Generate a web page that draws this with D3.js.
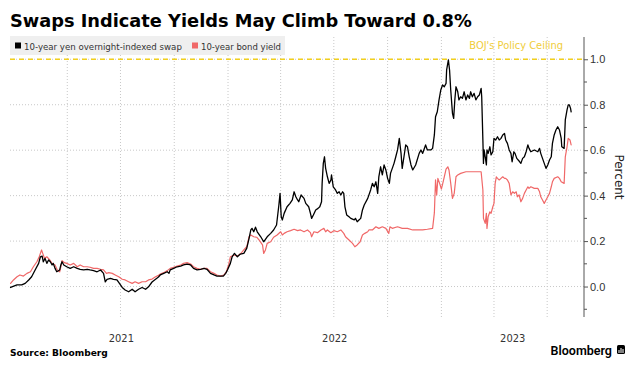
<!DOCTYPE html>
<html lang="en">
<head>
  <meta charset="UTF-8">
  <style>
    body { margin: 0; background: #fff; }
    svg { display: block; font-family: "DejaVu Sans", sans-serif; }
    .grid line { stroke: #c8c8c8; stroke-dasharray: 1,2; }
    .fn { fill: none; stroke-linejoin: round; stroke-linecap: round; }
    .tick-label { font-size: 11px; fill: #333; font-stretch: condensed; }
  </style>
</head>
<body>
  <svg id="chart" width="639" height="370"></svg>
  <script src="https://cdnjs.cloudflare.com/ajax/libs/d3/7.8.5/d3.min.js"></script>
  <script>
    // data (percent)
    const swap = [
      ["2020-12-25",-0.004],["2021-01-05",0.007],["2021-01-13",0.007],["2021-01-19",0.014],["2021-01-25",0.029],["2021-01-30",0.043],
      ["2021-02-05",0.073],["2021-02-11",0.102],["2021-02-14",0.131],["2021-02-17",0.134],["2021-02-19",0.109],["2021-02-22",0.124],
      ["2021-02-25",0.102],["2021-02-28",0.117],["2021-03-03",0.109],["2021-03-06",0.095],["2021-03-08",0.102],["2021-03-11",0.080],
      ["2021-03-14",0.065],["2021-03-19",0.073],["2021-03-21",0.095],["2021-03-23",0.109],["2021-03-26",0.095],["2021-03-31",0.087],
      ["2021-04-06",0.080],["2021-04-12",0.087],["2021-04-18",0.080],["2021-04-23",0.076],["2021-04-29",0.073],["2021-05-05",0.076],
      ["2021-05-10",0.073],["2021-05-16",0.070],["2021-05-22",0.065],["2021-05-28",0.073],["2021-06-02",0.058],["2021-06-05",0.021],
      ["2021-06-08",0.032],["2021-06-14",0.036],["2021-06-19",0.032],["2021-06-25",0.029],["2021-07-01",0.007],["2021-07-04",-0.004],
      ["2021-07-09",-0.015],["2021-07-15",-0.023],["2021-07-21",-0.012],["2021-07-26",-0.023],["2021-08-01",-0.012],["2021-08-07",-0.004],
      ["2021-08-13",-0.012],["2021-08-18",-0.001],["2021-08-24",0.020],["2021-08-30",0.032],["2021-09-04",0.042],["2021-09-07",0.051],
      ["2021-09-13",0.058],["2021-09-19",0.065],["2021-09-22",0.058],["2021-09-24",0.073],["2021-09-30",0.080],["2021-10-06",0.087],
      ["2021-10-12",0.090],["2021-10-17",0.095],["2021-10-23",0.099],["2021-10-29",0.095],["2021-11-03",0.080],["2021-11-09",0.073],
      ["2021-11-15",0.076],["2021-11-21",0.080],["2021-11-26",0.076],["2021-12-02",0.058],["2021-12-08",0.051],["2021-12-13",0.046],
      ["2021-12-19",0.046],["2021-12-24",0.046],["2021-12-28",0.058],["2021-12-31",0.073],["2022-01-05",0.102],["2022-01-08",0.131],
      ["2022-01-12",0.146],["2022-01-17",0.131],["2022-01-22",0.143],["2022-01-28",0.146],["2022-02-02",0.168],["2022-02-06",0.212],
      ["2022-02-09",0.249],["2022-02-11",0.256],["2022-02-14",0.241],["2022-02-17",0.261],["2022-02-20",0.241],["2022-02-26",0.219],
      ["2022-03-03",0.197],["2022-03-06",0.208],["2022-03-09",0.219],["2022-03-15",0.234],["2022-03-20",0.249],["2022-03-25",0.271],
      ["2022-03-29",0.359],["2022-03-31",0.410],["2022-04-02",0.307],["2022-04-04",0.293],["2022-04-07",0.322],["2022-04-12",0.351],
      ["2022-04-17",0.366],["2022-04-21",0.381],["2022-04-24",0.417],["2022-04-27",0.395],["2022-04-30",0.381],["2022-05-02",0.373],
      ["2022-05-06",0.403],["2022-05-11",0.388],["2022-05-14",0.366],["2022-05-19",0.351],["2022-05-22",0.322],["2022-05-24",0.300],
      ["2022-05-27",0.315],["2022-05-31",0.337],["2022-06-04",0.344],["2022-06-07",0.351],["2022-06-10",0.373],["2022-06-11",0.454],
      ["2022-06-13",0.542],["2022-06-15",0.571],["2022-06-17",0.520],["2022-06-20",0.483],["2022-06-23",0.454],["2022-06-26",0.469],
      ["2022-06-27",0.491],["2022-06-30",0.439],["2022-07-04",0.425],["2022-07-07",0.410],["2022-07-10",0.417],["2022-07-13",0.403],
      ["2022-07-16",0.417],["2022-07-18",0.410],["2022-07-20",0.351],["2022-07-23",0.315],["2022-07-27",0.307],["2022-07-30",0.300],
      ["2022-08-05",0.293],["2022-08-07",0.300],["2022-08-10",0.285],["2022-08-13",0.293],["2022-08-16",0.300],["2022-08-19",0.337],
      ["2022-08-22",0.359],["2022-08-28",0.388],["2022-09-02",0.425],["2022-09-05",0.454],["2022-09-08",0.439],["2022-09-11",0.461],
      ["2022-09-14",0.410],["2022-09-16",0.483],["2022-09-19",0.527],["2022-09-22",0.491],["2022-09-25",0.535],["2022-09-28",0.513],
      ["2022-10-01",0.476],["2022-10-04",0.454],["2022-10-06",0.498],["2022-10-12",0.542],["2022-10-15",0.571],["2022-10-18",0.601],
      ["2022-10-21",0.652],["2022-10-24",0.586],["2022-10-26",0.520],["2022-10-29",0.571],["2022-11-01",0.623],["2022-11-04",0.615],
      ["2022-11-07",0.571],["2022-11-10",0.535],["2022-11-13",0.513],["2022-11-18",0.535],["2022-11-24",0.586],["2022-11-27",0.601],
      ["2022-11-30",0.586],["2022-12-02",0.601],["2022-12-05",0.623],["2022-12-08",0.601],["2022-12-14",0.601],["2022-12-17",0.608],
      ["2022-12-20",0.667],["2022-12-22",0.747],["2022-12-25",0.769],["2022-12-28",0.821],["2022-12-31",0.865],["2023-01-03",0.887],
      ["2023-01-06",0.879],["2023-01-09",0.894],["2023-01-10",0.953],["2023-01-13",0.997],["2023-01-15",0.953],["2023-01-17",0.865],
      ["2023-01-20",0.762],["2023-01-22",0.740],["2023-01-24",0.821],["2023-01-26",0.879],["2023-01-29",0.857],["2023-01-31",0.821],
      ["2023-02-03",0.835],["2023-02-06",0.828],["2023-02-09",0.857],["2023-02-12",0.821],["2023-02-15",0.843],["2023-02-18",0.828],
      ["2023-02-20",0.857],["2023-02-23",0.835],["2023-02-26",0.850],["2023-03-01",0.821],["2023-03-04",0.835],["2023-03-07",0.843],
      ["2023-03-10",0.872],["2023-03-11",0.835],["2023-03-13",0.645],["2023-03-14",0.542],["2023-03-15",0.601],["2023-03-17",0.571],
      ["2023-03-19",0.535],["2023-03-20",0.601],["2023-03-22",0.586],["2023-03-25",0.615],["2023-03-27",0.579],["2023-03-30",0.593],
      ["2023-04-01",0.652],["2023-04-04",0.645],["2023-04-07",0.659],["2023-04-10",0.645],["2023-04-13",0.652],["2023-04-16",0.667],
      ["2023-04-19",0.674],["2023-04-21",0.645],["2023-04-24",0.630],["2023-04-27",0.601],["2023-04-30",0.586],["2023-05-02",0.549],
      ["2023-05-05",0.593],["2023-05-07",0.586],["2023-05-10",0.564],["2023-05-15",0.549],["2023-05-17",0.542],["2023-05-20",0.564],
      ["2023-05-23",0.571],["2023-05-26",0.593],["2023-05-29",0.623],["2023-05-31",0.608],["2023-06-03",0.593],["2023-06-09",0.601],
      ["2023-06-15",0.593],["2023-06-18",0.608],["2023-06-20",0.586],["2023-06-23",0.564],["2023-06-26",0.542],["2023-06-29",0.520],
      ["2023-07-02",0.535],["2023-07-05",0.557],["2023-07-08",0.571],["2023-07-10",0.630],["2023-07-13",0.667],["2023-07-16",0.689],
      ["2023-07-19",0.703],["2023-07-22",0.689],["2023-07-25",0.652],["2023-07-26",0.615],["2023-07-30",0.608],["2023-08-01",0.733],
      ["2023-08-04",0.777],["2023-08-06",0.799],["2023-08-08",0.799],["2023-08-10",0.784],["2023-08-11",0.769]
    ]
    const bond = [
      ["2020-12-25",0.014],["2020-12-30",0.029],["2021-01-05",0.043],["2021-01-10",0.051],["2021-01-16",0.046],["2021-01-22",0.058],
      ["2021-01-28",0.065],["2021-02-02",0.087],["2021-02-08",0.109],["2021-02-12",0.131],["2021-02-16",0.161],["2021-02-18",0.146],
      ["2021-02-21",0.124],["2021-02-25",0.131],["2021-03-02",0.117],["2021-03-06",0.102],["2021-03-11",0.095],["2021-03-15",0.073],
      ["2021-03-19",0.065],["2021-03-21",0.087],["2021-03-23",0.114],["2021-03-27",0.105],["2021-03-31",0.102],["2021-04-06",0.095],
      ["2021-04-12",0.102],["2021-04-18",0.087],["2021-04-23",0.095],["2021-04-29",0.087],["2021-05-05",0.087],["2021-05-10",0.085],
      ["2021-05-16",0.080],["2021-05-22",0.080],["2021-05-28",0.076],["2021-06-02",0.073],["2021-06-07",0.058],["2021-06-11",0.061],
      ["2021-06-17",0.058],["2021-06-22",0.051],["2021-06-28",0.043],["2021-07-04",0.032],["2021-07-09",0.029],["2021-07-15",0.021],
      ["2021-07-21",0.014],["2021-07-26",0.021],["2021-08-01",0.014],["2021-08-07",0.021],["2021-08-13",0.021],["2021-08-18",0.029],
      ["2021-08-24",0.033],["2021-08-30",0.043],["2021-09-04",0.049],["2021-09-07",0.055],["2021-09-13",0.061],["2021-09-19",0.070],
      ["2021-09-24",0.080],["2021-09-30",0.085],["2021-10-06",0.090],["2021-10-12",0.095],["2021-10-17",0.102],["2021-10-23",0.105],
      ["2021-10-29",0.099],["2021-11-03",0.087],["2021-11-09",0.080],["2021-11-15",0.076],["2021-11-21",0.080],["2021-11-26",0.080],
      ["2021-12-02",0.065],["2021-12-08",0.058],["2021-12-13",0.051],["2021-12-19",0.046],["2021-12-25",0.051],["2021-12-29",0.065],
      ["2022-01-02",0.095],["2022-01-05",0.131],["2022-01-11",0.139],["2022-01-17",0.134],["2022-01-22",0.143],["2022-01-28",0.161],
      ["2022-02-02",0.175],["2022-02-06",0.219],["2022-02-09",0.227],["2022-02-14",0.219],["2022-02-19",0.217],["2022-02-23",0.205],
      ["2022-03-01",0.183],["2022-03-03",0.146],["2022-03-06",0.161],["2022-03-09",0.190],["2022-03-15",0.197],["2022-03-20",0.217],
      ["2022-03-26",0.227],["2022-04-01",0.241],["2022-04-04",0.227],["2022-04-07",0.234],["2022-04-12",0.241],["2022-04-18",0.246],
      ["2022-04-24",0.252],["2022-04-30",0.246],["2022-05-05",0.249],["2022-05-11",0.241],["2022-05-17",0.249],["2022-05-22",0.237],
      ["2022-05-24",0.219],["2022-05-28",0.241],["2022-06-03",0.237],["2022-06-09",0.249],["2022-06-14",0.256],["2022-06-17",0.241],
      ["2022-06-20",0.249],["2022-06-26",0.237],["2022-07-01",0.246],["2022-07-07",0.241],["2022-07-13",0.249],["2022-07-18",0.234],
      ["2022-07-21",0.219],["2022-07-27",0.205],["2022-08-02",0.190],["2022-08-06",0.175],["2022-08-10",0.183],["2022-08-15",0.197],
      ["2022-08-19",0.227],["2022-08-23",0.234],["2022-08-28",0.241],["2022-08-30",0.249],["2022-09-05",0.249],["2022-09-11",0.263],
      ["2022-09-16",0.256],["2022-09-22",0.263],["2022-09-28",0.256],["2022-10-03",0.234],["2022-10-05",0.263],["2022-10-09",0.256],
      ["2022-10-18",0.263],["2022-10-26",0.256],["2022-11-04",0.256],["2022-11-13",0.249],["2022-11-21",0.249],["2022-11-30",0.249],
      ["2022-12-08",0.252],["2022-12-17",0.256],["2022-12-20",0.324],["2022-12-22",0.469],["2022-12-24",0.403],["2022-12-26",0.476],
      ["2022-12-29",0.454],["2023-01-01",0.429],["2023-01-03",0.450],["2023-01-06",0.483],["2023-01-09",0.517],["2023-01-12",0.527],
      ["2023-01-14",0.513],["2023-01-17",0.454],["2023-01-20",0.388],["2023-01-23",0.410],["2023-01-26",0.483],["2023-01-29",0.491],
      ["2023-02-03",0.498],["2023-02-12",0.505],["2023-02-20",0.505],["2023-03-01",0.505],["2023-03-10",0.505],["2023-03-13",0.425],
      ["2023-03-14",0.300],["2023-03-17",0.278],["2023-03-19",0.322],["2023-03-20",0.256],["2023-03-22",0.307],["2023-03-25",0.329],
      ["2023-03-27",0.322],["2023-03-30",0.351],["2023-04-01",0.366],["2023-04-03",0.454],["2023-04-05",0.483],["2023-04-07",0.476],
      ["2023-04-10",0.469],["2023-04-13",0.476],["2023-04-16",0.483],["2023-04-19",0.476],["2023-04-21",0.476],["2023-04-24",0.469],
      ["2023-04-27",0.454],["2023-04-30",0.403],["2023-05-03",0.417],["2023-05-06",0.410],["2023-05-09",0.417],["2023-05-11",0.395],
      ["2023-05-14",0.403],["2023-05-17",0.373],["2023-05-20",0.388],["2023-05-23",0.410],["2023-05-26",0.425],["2023-05-29",0.439],
      ["2023-05-31",0.432],["2023-06-03",0.439],["2023-06-09",0.432],["2023-06-15",0.432],["2023-06-18",0.417],["2023-06-20",0.395],
      ["2023-06-23",0.381],["2023-06-26",0.366],["2023-06-29",0.381],["2023-07-02",0.395],["2023-07-05",0.410],["2023-07-08",0.439],
      ["2023-07-10",0.461],["2023-07-13",0.476],["2023-07-19",0.483],["2023-07-22",0.476],["2023-07-25",0.461],["2023-07-30",0.454],
      ["2023-08-01",0.571],["2023-08-04",0.615],["2023-08-06",0.652],["2023-08-09",0.645],["2023-08-11",0.623]
    ]
    const seriesNames = ["10-year yen overnight-indexed swap", "10-year bond yield"]
    const seriesColors = ["#000000", "#f06868"]
    const years = [2021, 2022, 2023]
    const yTicks = [0, 0.2, 0.4, 0.6, 0.8, 1.0]
    const yMinorTicks = [-0.1, 0.1, 0.3, 0.5, 0.7, 0.9]
    const ceiling = 1.0
    const ceilingLabel = "BOJ's Policy Ceiling"
    const title = "Swaps Indicate Yields May Climb Toward 0.8%"

    const parse = d3.timeParse("%Y-%m-%d")
    const plot = { left: 10, right: 584, top: 37, bottom: 317 }

    const xScale = d3.scaleTime()
      .domain([parse("2020-12-24"), parse("2023-09-02")])
      .range([plot.left, plot.right])
    const yScale = d3.scaleLinear()
      .domain([-0.134, 1.098])
      .range([plot.bottom, plot.top])

    const svg = d3.select('#chart')

    // fit text to a width measured on the reference
    function fit(sel, width) {
      const w = sel.node().getComputedTextLength()
      const fs = parseFloat(sel.attr('font-size'))
      sel.attr('font-size', (fs * width / w).toFixed(2))
    }

    // Title
    // =====
    svg.append('text')
        .attr('x', 10).attr('y', 27)
        .attr('font-size', 18).attr('font-weight', 'bold').attr('fill', '#000')
        .text(title)
        .call(fit, 462)

    // Grid
    // ====
    const grid = svg.append('g').attr('class', 'grid')
    grid.selectAll('line.h')
        .data(yTicks)
      .enter().append('line')
        .attr('x1', plot.left).attr('x2', plot.right)
        .attr('y1', d => yScale(d)).attr('y2', d => yScale(d))
    const quarters = d3.timeMonth.every(3).range(...xScale.domain())
      .filter(d => xScale(d) > plot.left + 15)
    grid.selectAll('line.v')
        .data(quarters)
      .enter().append('line')
        .attr('x1', d => xScale(d)).attr('x2', d => xScale(d))
        .attr('y1', plot.top).attr('y2', plot.bottom + 1)

    // Legend
    // ======
    const legend = svg.append('g')
    legend.append('rect')
        .attr('x', 10).attr('y', 36).attr('width', 275).attr('height', 19)
        .attr('fill', '#efefef')
    const legendX = [[15, 24, 158], [192, 201, 80]]
    seriesNames.forEach((name, i) => {
      legend.append('rect')
          .attr('x', legendX[i][0]).attr('y', 42.5).attr('width', 6).attr('height', 6)
          .attr('fill', seriesColors[i])
      legend.append('text')
          .attr('x', legendX[i][1]).attr('y', 49.5)
          .attr('font-size', 10).attr('fill', '#333')
          .style('font-stretch', 'condensed')
          .text(name)
          .call(fit, legendX[i][2])
    })

    // Ceiling
    // =======
    svg.append('line')
        .attr('x1', plot.left).attr('x2', plot.right)
        .attr('y1', yScale(ceiling)).attr('y2', yScale(ceiling))
        .attr('stroke', '#f2cf1d').attr('stroke-width', 1.3)
        .attr('stroke-dasharray', '5,4')
    svg.append('text')
        .attr('x', 563).attr('y', 49)
        .attr('text-anchor', 'end')
        .attr('font-size', 11).attr('fill', '#f0cd3a')
        .style('font-stretch', 'condensed')
        .text(ceilingLabel)

    // Lines
    // =====
    const line = d3.line()
      .x(d => xScale(parse(d[0])))
      .y(d => yScale(d[1]))
    svg.append('path')
        .datum(bond)
        .attr('class', 'fn')
        .attr('stroke', seriesColors[1]).attr('stroke-width', 1.2)
        .attr('d', line)
    svg.append('path')
        .datum(swap)
        .attr('class', 'fn')
        .attr('stroke', seriesColors[0]).attr('stroke-width', 1.3)
        .attr('d', line)

    // Right axis
    // ==========
    const yAxis = d3.axisRight(yScale)
      .tickValues(yTicks)
      .tickSize(4)
      .tickPadding(2)
      .tickFormat(d3.format('.1f'))
    const axisG = svg.append('g')
        .attr('transform', `translate(${plot.right}, 0)`)
        .call(yAxis)
    axisG.select('.domain').attr('d', `M0,${plot.top}V${plot.bottom}`).attr('stroke', '#555')
    axisG.selectAll('.tick line').attr('stroke', '#555')
    axisG.selectAll('.tick text')
        .attr('class', 'tick-label').attr('font-size', null).attr('font-family', null)
    axisG.selectAll('line.minor')
        .data(yMinorTicks)
      .enter().append('line')
        .attr('class', 'minor')
        .attr('x1', 0).attr('x2', 3)
        .attr('y1', d => yScale(d)).attr('y2', d => yScale(d))
        .attr('stroke', '#555')

    svg.append('text')
        .attr('transform', 'translate(615, 177) rotate(90)')
        .attr('text-anchor', 'middle')
        .attr('font-size', 12).attr('fill', '#222')
        .text('Percent')

    // Year labels, centred on the visible part of each year
    // =====================================================
    svg.selectAll('text.year')
        .data(years)
      .enter().append('text')
        .attr('class', 'tick-label')
        .attr('x', d => {
          const a = Math.max(xScale(new Date(d, 0, 1)), plot.left)
          const b = Math.min(xScale(new Date(d + 1, 0, 1)), plot.right)
          return (a + b) / 2
        })
        .attr('y', 342)
        .attr('text-anchor', 'middle')
        .text(d => d)

    // Footer
    // ======
    svg.append('text')
        .attr('x', 10).attr('y', 356)
        .attr('font-size', 10).attr('font-weight', 'bold').attr('fill', '#000')
        .text('Source: Bloomberg')
        .call(fit, 98)
    svg.append('text')
        .attr('x', 612).attr('y', 355)
        .attr('text-anchor', 'end')
        .attr('font-size', 12.5).attr('font-weight', 600).attr('fill', '#000')
        .attr('font-family', 'Roboto, sans-serif')
        .text('Bloomberg')
    const logo = svg.append('g').attr('transform', 'translate(617, 345)')
    logo.append('rect').attr('width', 8).attr('height', 9).attr('rx', 1.5).attr('fill', '#000')
    logo.selectAll('rect.bar')
        .data([3, 5, 4])
      .enter().append('rect')
        .attr('x', (d, i) => 1.5 + i * 2).attr('y', d => 8 - d)
        .attr('width', 1).attr('height', d => d)
        .attr('fill', '#fff')
  </script>
</body>
</html>
